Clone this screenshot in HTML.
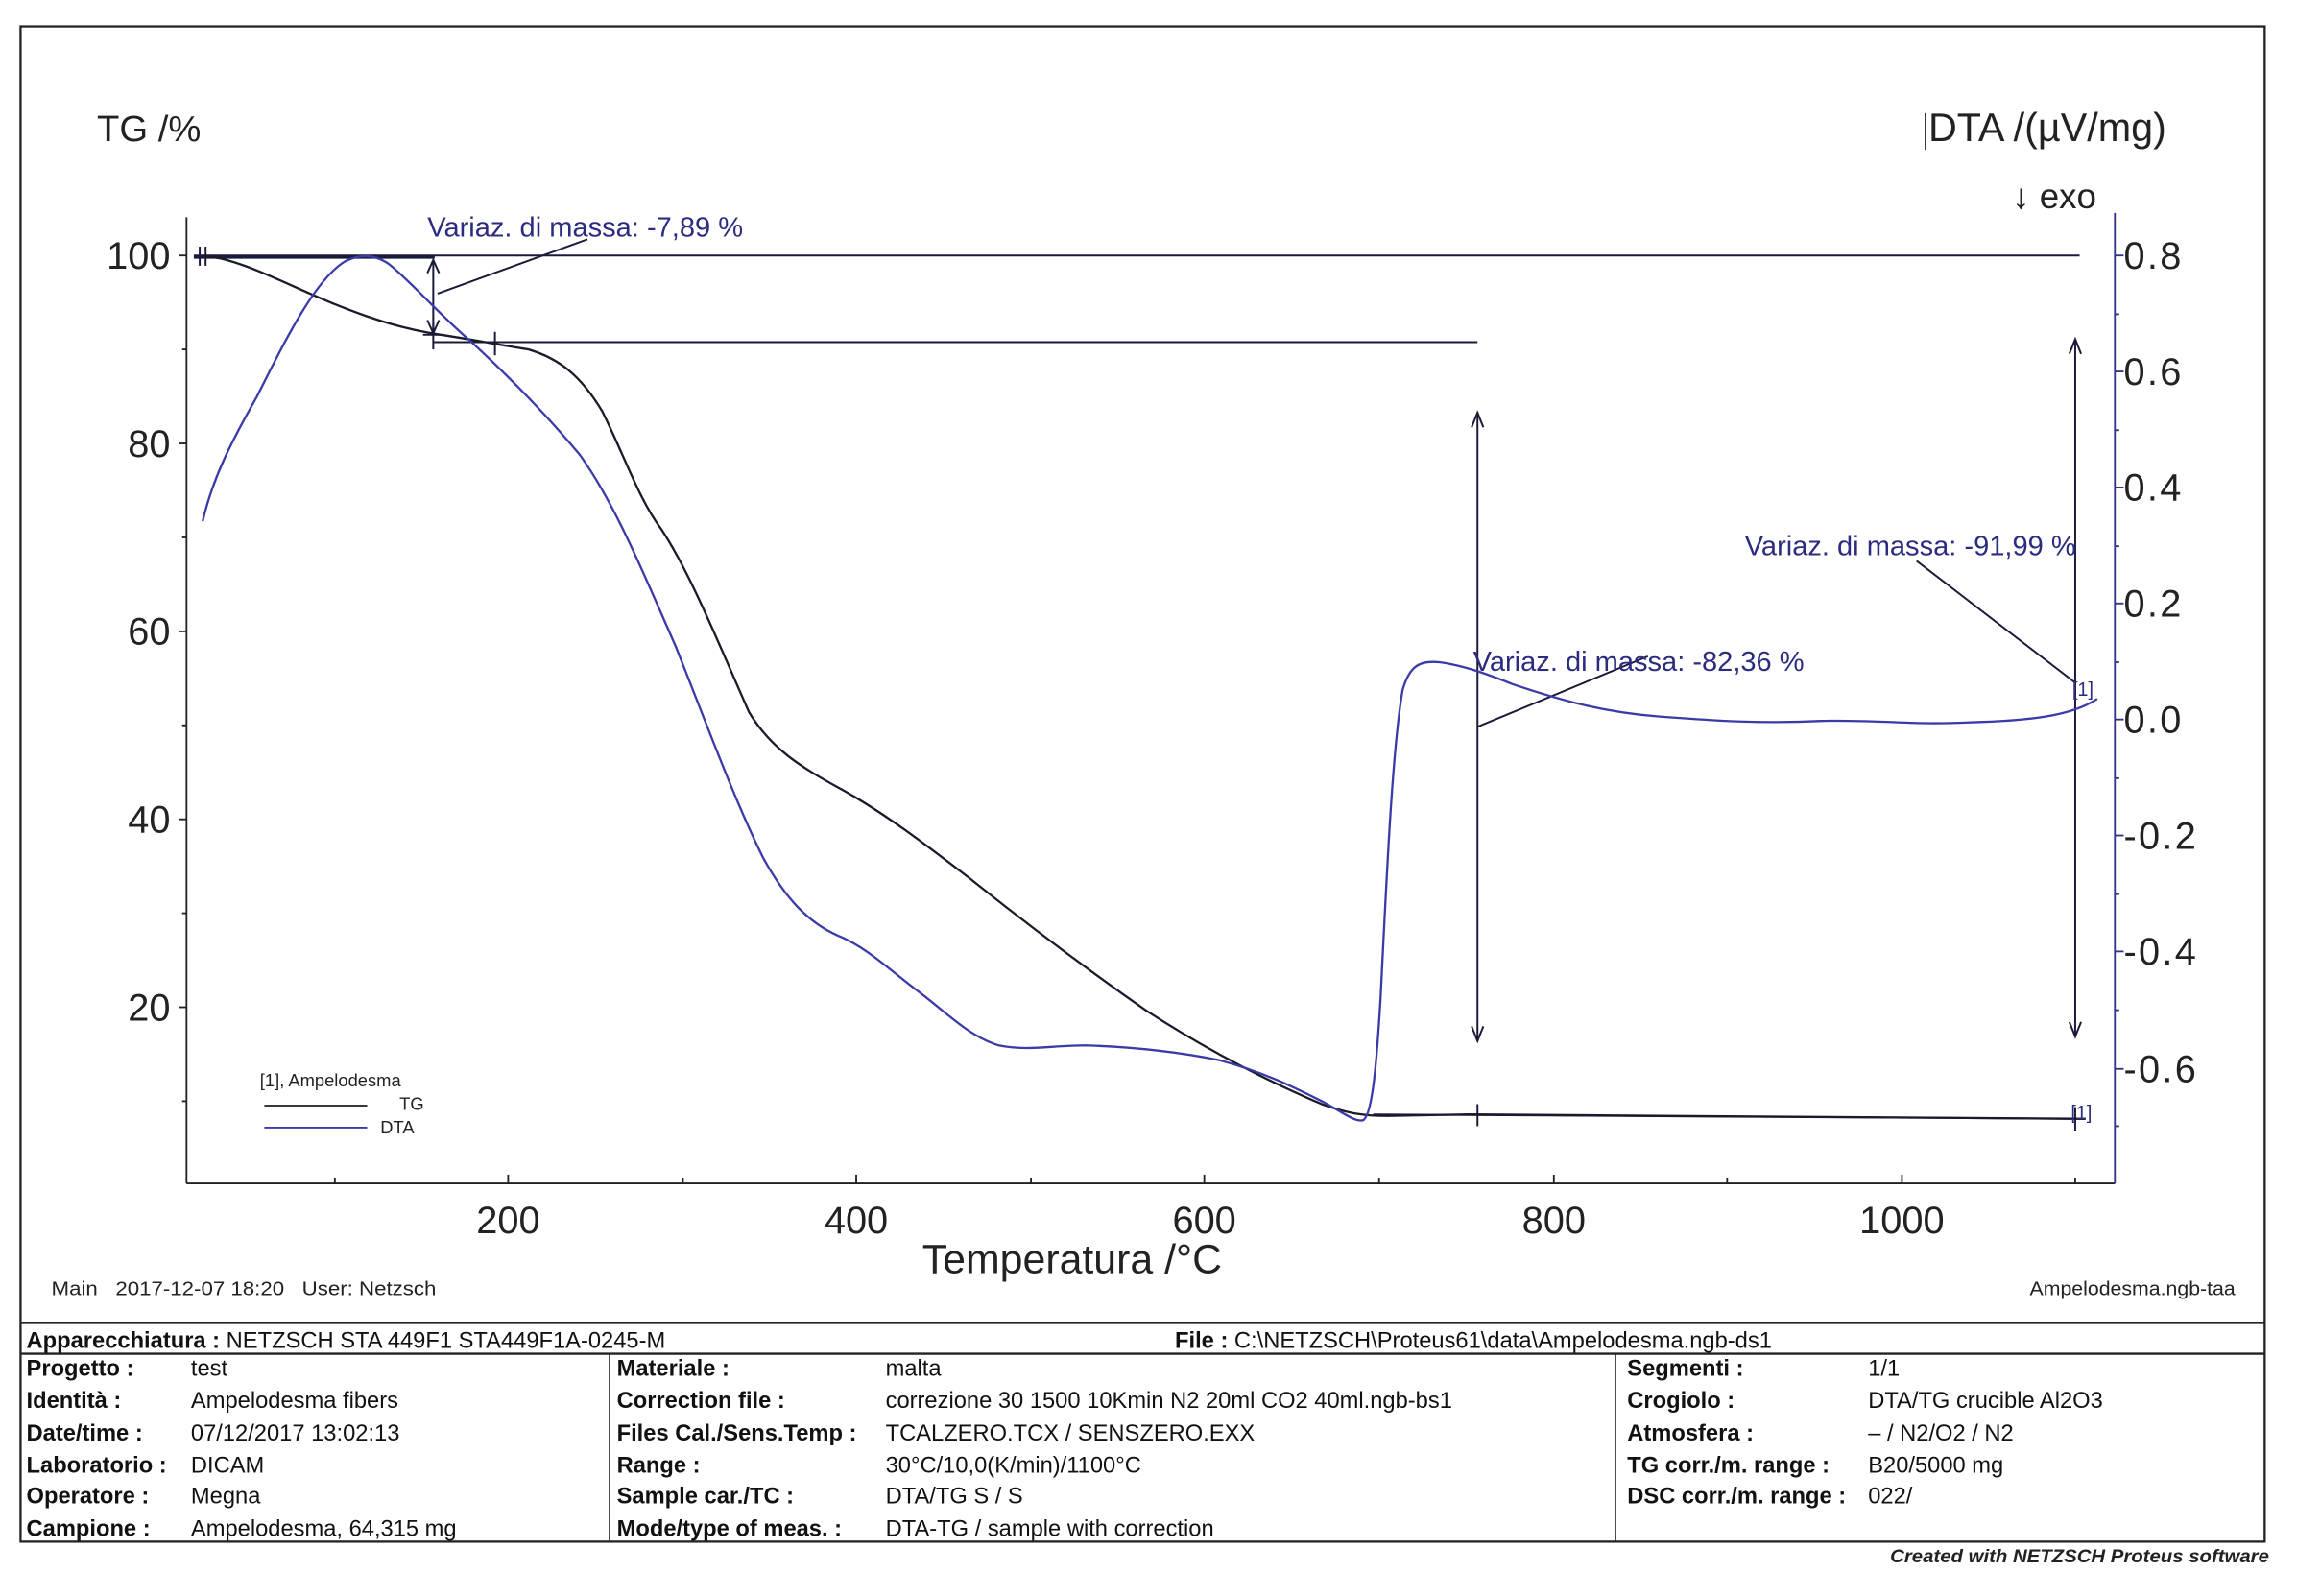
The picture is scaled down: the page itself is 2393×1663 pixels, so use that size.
<!DOCTYPE html>
<html><head><meta charset="utf-8"><style>
html,body{margin:0;padding:0;background:#fff;}
svg{display:block;}
text{font-family:"Liberation Sans",sans-serif;}
.b{font-weight:bold;}
</style></head><body>
<svg width="2393" height="1663" viewBox="0 0 1564 1087" preserveAspectRatio="none" xmlns="http://www.w3.org/2000/svg">
<rect x="0" y="0" width="1564" height="1087" fill="#fff"/>
<rect x="14" y="18" width="1528" height="1032" fill="none" stroke="#222" stroke-width="1.5"/>
<g stroke="#222" stroke-width="1.2" fill="none">
<line x1="127" y1="148" x2="127" y2="806"/>
<line x1="127" y1="806" x2="1440" y2="806"/>
<line x1="1440" y1="145" x2="1440" y2="806" stroke="#33338a"/>
<line x1="122" y1="174" x2="127" y2="174"/><line x1="124" y1="238" x2="127" y2="238"/>
<line x1="122" y1="302" x2="127" y2="302"/><line x1="124" y1="366" x2="127" y2="366"/>
<line x1="122" y1="430" x2="127" y2="430"/><line x1="124" y1="494" x2="127" y2="494"/>
<line x1="122" y1="558" x2="127" y2="558"/><line x1="124" y1="622" x2="127" y2="622"/>
<line x1="122" y1="686" x2="127" y2="686"/><line x1="124" y1="750" x2="127" y2="750"/>
<line x1="228" y1="806" x2="228" y2="802"/><line x1="346" y1="806" x2="346" y2="800"/>
<line x1="465" y1="806" x2="465" y2="802"/><line x1="583" y1="806" x2="583" y2="800"/>
<line x1="702" y1="806" x2="702" y2="802"/><line x1="820" y1="806" x2="820" y2="800"/>
<line x1="939" y1="806" x2="939" y2="802"/><line x1="1058" y1="806" x2="1058" y2="800"/>
<line x1="1176" y1="806" x2="1176" y2="802"/><line x1="1295" y1="806" x2="1295" y2="800"/>
<line x1="1413" y1="806" x2="1413" y2="802"/>
</g>
<g stroke="#33338a" stroke-width="1.2">
<line x1="1440" y1="174" x2="1446" y2="174"/><line x1="1440" y1="214" x2="1443" y2="214"/>
<line x1="1440" y1="253" x2="1446" y2="253"/><line x1="1440" y1="293" x2="1443" y2="293"/>
<line x1="1440" y1="332" x2="1446" y2="332"/><line x1="1440" y1="372" x2="1443" y2="372"/>
<line x1="1440" y1="411" x2="1446" y2="411"/><line x1="1440" y1="451" x2="1443" y2="451"/>
<line x1="1440" y1="490" x2="1446" y2="490"/><line x1="1440" y1="530" x2="1443" y2="530"/>
<line x1="1440" y1="569" x2="1446" y2="569"/><line x1="1440" y1="609" x2="1443" y2="609"/>
<line x1="1440" y1="648" x2="1446" y2="648"/><line x1="1440" y1="688" x2="1443" y2="688"/>
<line x1="1440" y1="728" x2="1446" y2="728"/><line x1="1440" y1="767" x2="1443" y2="767"/>
</g>
<g font-size="26" fill="#222">
<text x="66" y="96" font-size="25">TG /%</text>
<text x="1313" y="96" font-size="27">DTA /(µV/mg)</text>
<text x="1370" y="142" font-size="24">↓ exo</text>
<g text-anchor="end"><text x="116" y="183">100</text><text x="116" y="311">80</text><text x="116" y="439">60</text><text x="116" y="567">40</text><text x="116" y="695">20</text></g>
<g text-anchor="start" letter-spacing="1.5"><text x="1446" y="183">0.8</text><text x="1446" y="262">0.6</text><text x="1446" y="341">0.4</text><text x="1446" y="420">0.2</text><text x="1446" y="499">0.0</text><text x="1446" y="578">-0.2</text><text x="1446" y="657">-0.4</text><text x="1446" y="737">-0.6</text></g>
<g text-anchor="middle"><text x="346" y="840">200</text><text x="583" y="840">400</text><text x="820" y="840">600</text><text x="1058" y="840">800</text><text x="1295" y="840">1000</text></g>
<text x="730" y="867" text-anchor="middle" font-size="28">Temperatura /°C</text>
</g>
<line x1="1311" y1="77" x2="1311" y2="102" stroke="#222" stroke-width="1"/>
<g stroke="#1a1a3a" stroke-width="1.3" fill="none">
<line x1="132" y1="174" x2="1416" y2="174"/>
<line x1="132" y1="175" x2="296" y2="175" stroke-width="2.5"/>
<line x1="136" y1="168" x2="136" y2="181"/><line x1="140" y1="168" x2="140" y2="181"/>
<line x1="295" y1="233" x2="1006" y2="233"/>
<line x1="288" y1="228" x2="302" y2="228"/><line x1="295" y1="220" x2="295" y2="238"/>
<line x1="337" y1="226" x2="337" y2="242"/>
<line x1="295" y1="178" x2="295" y2="226"/>
<path d="M291,186 L295,177 L299,186 M291,218 L295,227 L299,218"/>
<line x1="298" y1="200" x2="400" y2="163"/>
<line x1="1006" y1="282" x2="1006" y2="708"/>
<path d="M1002,291 L1006,281 L1010,291 M1002,699 L1006,709 L1010,699"/>
<line x1="1006" y1="495" x2="1122" y2="447"/>
<line x1="935" y1="759" x2="1420" y2="762"/>
<line x1="1006" y1="752" x2="1006" y2="767"/>
<line x1="1413" y1="754" x2="1413" y2="770"/>
<line x1="1413" y1="232" x2="1413" y2="705"/>
<path d="M1409,241 L1413,231 L1417,241 M1409,696 L1413,706 L1417,696"/>
<line x1="1413" y1="465" x2="1305" y2="382"/>
</g>
<path fill="none" stroke="#1a1a2a" stroke-width="1.5" d="M138,174 L150,176 C175,182 200,196 230,208 C255,218 275,224 300,228 C320,231 335,234 360,238 C380,244 395,255 410,280 C425,310 435,340 450,360 C470,390 490,440 510,485 C525,510 545,522 570,536 C600,552 630,575 660,598 C700,630 740,660 780,688 C820,714 860,735 900,752 C920,759 930,760 945,760 L1000,759 L1420,762"/>
<path fill="none" stroke="#3a3aa8" stroke-width="1.5" d="M138,355 C145,325 158,300 175,270 C195,230 215,190 235,178 C245,173 255,173 265,180 C280,192 300,215 320,232 C345,255 370,280 395,310 C420,345 440,395 460,440 C480,490 500,545 520,585 C535,612 550,628 570,637 C590,645 605,660 625,675 C645,690 660,706 680,712 C700,716 715,712 740,712 C770,713 800,716 830,722 C860,730 880,740 900,750 C915,758 922,764 928,763 C934,760 937,730 940,680 C944,600 948,510 955,470 C960,452 968,450 980,451 C995,453 1010,458 1030,466 C1060,476 1090,485 1130,488 C1170,491 1200,493 1240,491 C1280,490 1300,494 1340,492 C1380,491 1410,488 1428,476"/>
<g fill="#2b2b80" font-size="19">
<text x="291" y="161">Variaz. di massa: -7,89 %</text>
<text x="1003" y="457">Variaz. di massa: -82,36 %</text>
<text x="1188" y="378">Variaz. di massa: -91,99 %</text>
<text x="1411" y="474" font-size="13">[1]</text>
<text x="1410" y="762" font-size="13">[1]</text>
</g>
<g font-size="12" fill="#222">
<text x="177" y="740">[1], Ampelodesma</text>
<text x="272" y="756">TG</text>
<text x="259" y="772">DTA</text>
</g>
<line x1="180" y1="753" x2="250" y2="753" stroke="#1a1a2a" stroke-width="1.2"/>
<line x1="180" y1="768" x2="250" y2="768" stroke="#3a3aa8" stroke-width="1.2"/>
<g font-size="13.5" fill="#222">
<text x="35" y="882" textLength="262" lengthAdjust="spacingAndGlyphs">Main &#160; 2017-12-07 18:20 &#160; User: Netzsch</text>
<text x="1382" y="882" textLength="140" lengthAdjust="spacingAndGlyphs">Ampelodesma.ngb-taa</text>
</g>
<g stroke="#222" stroke-width="1.5">
<line x1="14" y1="901" x2="1542" y2="901"/>
<line x1="14" y1="922" x2="1542" y2="922"/>
<line x1="415" y1="922" x2="415" y2="1050" stroke-width="1"/>
<line x1="1100" y1="922" x2="1100" y2="1050" stroke-width="1"/>
</g>
<g font-size="15.5" fill="#111">
<text x="18" y="918"><tspan class="b">Apparecchiatura :</tspan> NETZSCH STA 449F1 STA449F1A-0245-M</text>
<text x="800" y="918"><tspan class="b">File :</tspan> C:\NETZSCH\Proteus61\data\Ampelodesma.ngb-ds1</text>
<g class="b">
<text x="18" y="937">Progetto :</text><text x="18" y="959">Identità :</text><text x="18" y="981">Date/time :</text><text x="18" y="1003">Laboratorio :</text><text x="18" y="1024">Operatore :</text><text x="18" y="1046">Campione :</text>
<text x="420" y="937">Materiale :</text><text x="420" y="959">Correction file :</text><text x="420" y="981">Files Cal./Sens.Temp :</text><text x="420" y="1003">Range :</text><text x="420" y="1024">Sample car./TC :</text><text x="420" y="1046">Mode/type of meas. :</text>
<text x="1108" y="937">Segmenti :</text><text x="1108" y="959">Crogiolo :</text><text x="1108" y="981">Atmosfera :</text><text x="1108" y="1003">TG corr./m. range :</text><text x="1108" y="1024">DSC corr./m. range :</text>
</g>
<text x="130" y="937">test</text><text x="130" y="959">Ampelodesma fibers</text><text x="130" y="981">07/12/2017 13:02:13</text><text x="130" y="1003">DICAM</text><text x="130" y="1024">Megna</text><text x="130" y="1046">Ampelodesma, 64,315 mg</text>
<text x="603" y="937">malta</text><text x="603" y="959">correzione 30 1500 10Kmin N2 20ml CO2 40ml.ngb-bs1</text><text x="603" y="981">TCALZERO.TCX / SENSZERO.EXX</text><text x="603" y="1003">30°C/10,0(K/min)/1100°C</text><text x="603" y="1024">DTA/TG S / S</text><text x="603" y="1046">DTA-TG / sample with correction</text>
<text x="1272" y="937">1/1</text><text x="1272" y="959">DTA/TG crucible Al2O3</text><text x="1272" y="981">– / N2/O2 / N2</text><text x="1272" y="1003">B20/5000 mg</text><text x="1272" y="1024">022/</text>
</g>
<text x="1287" y="1064" textLength="258" lengthAdjust="spacingAndGlyphs" font-size="12.5" font-style="italic" font-weight="bold" fill="#222">Created with NETZSCH Proteus software</text>
</svg>
</body></html>
